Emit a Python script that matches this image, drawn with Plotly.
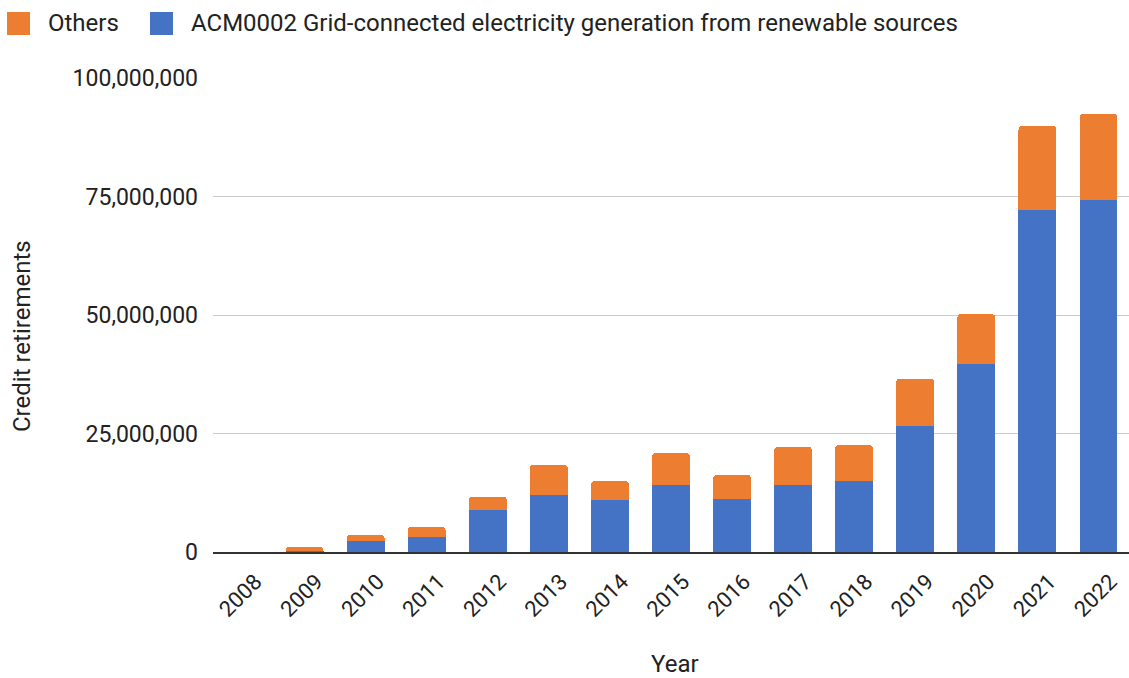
import plotly.graph_objects as go

years = [str(y) for y in range(2008, 2023)]
acm0002 = [0, 300000, 2400000, 3200000, 8800000, 12100000, 10900000, 14200000,
           11200000, 14200000, 15000000, 26500000, 39600000, 72200000, 74300000]
totals = [0, 1100000, 3600000, 5300000, 11700000, 18400000, 15000000, 20900000,
          16300000, 22200000, 22600000, 36600000, 50200000, 89900000, 92500000]
others = [t - a for t, a in zip(totals, acm0002)]

y_ticks = [0, 25000000, 50000000, 75000000, 100000000]

ORANGE, BLUE = "#ED7D31", "#4472C4"
NAME_ACM = "ACM0002 Grid-connected electricity generation from renewable sources"
NAME_OTH = "Others"

W, H = 1129, 678
L, R, T, B = 213, 0, 78, 126


def px_x(p):
    return (p - L) / (W - L - R)


def px_y(p):
    return (H - B - p) / (H - T - B)


fig = go.Figure()
fig.add_trace(go.Bar(x=years, y=acm0002, name=NAME_ACM,
                     marker=dict(color=BLUE, line=dict(width=0))))
fig.add_trace(go.Bar(x=years, y=others, name=NAME_OTH,
                     marker=dict(color=ORANGE, line=dict(width=0))))

# manual legend (squares + labels)
legend_items = [(NAME_OTH, ORANGE, 7, 47), (NAME_ACM, BLUE, 150, 190)]
shapes = []
annotations = []
for name, col, sx, tx in legend_items:
    shapes.append(dict(type="rect", xref="paper", yref="paper",
                       x0=px_x(sx), x1=px_x(sx + 23), y0=px_y(12), y1=px_y(35),
                       fillcolor=col, line=dict(width=0), layer="above"))
    annotations.append(dict(text=name, xref="paper", yref="paper", x=px_x(tx - 1), y=px_y(23.5),
                            xanchor="left", yanchor="middle", showarrow=False,
                            font=dict(size=24, color="#222222")))

annotations += [
    dict(text="Credit retirements", textangle=-90, xref="paper", yref="paper",
         x=px_x(22), y=px_y(336),
         showarrow=False, font=dict(size=24, color="#222222"), xanchor="center", yanchor="middle"),
    dict(text="Year", xref="paper", yref="paper",
         x=px_x(675), y=px_y(664),
         showarrow=False, font=dict(size=24, color="#222222"), xanchor="center", yanchor="middle"),
]

fig.update_layout(
    width=W, height=H,
    barmode="stack", bargap=0.38, barcornerradius=4,
    plot_bgcolor="white", paper_bgcolor="white",
    font=dict(family="Roboto", size=24, color="#222222"),
    margin=dict(l=L, r=R, t=T, b=B, autoexpand=False),
    showlegend=False,
    shapes=shapes,
    annotations=annotations,
)
fig.update_xaxes(tickangle=-45, showline=True, linecolor="#333333", linewidth=2,
                 tickfont=dict(size=22, color="#222222"), ticks="",
                 ticklabelshift=12, ticklabelstandoff=6)
fig.update_yaxes(range=[0, 100000000], tickvals=y_ticks, tickformat=",",
                 gridcolor="#CCCCCC", gridwidth=1, zeroline=False,
                 tickfont=dict(size=23, color="#222222"), ticks="", ticklabelstandoff=14)

fig.write_html("out.html")
